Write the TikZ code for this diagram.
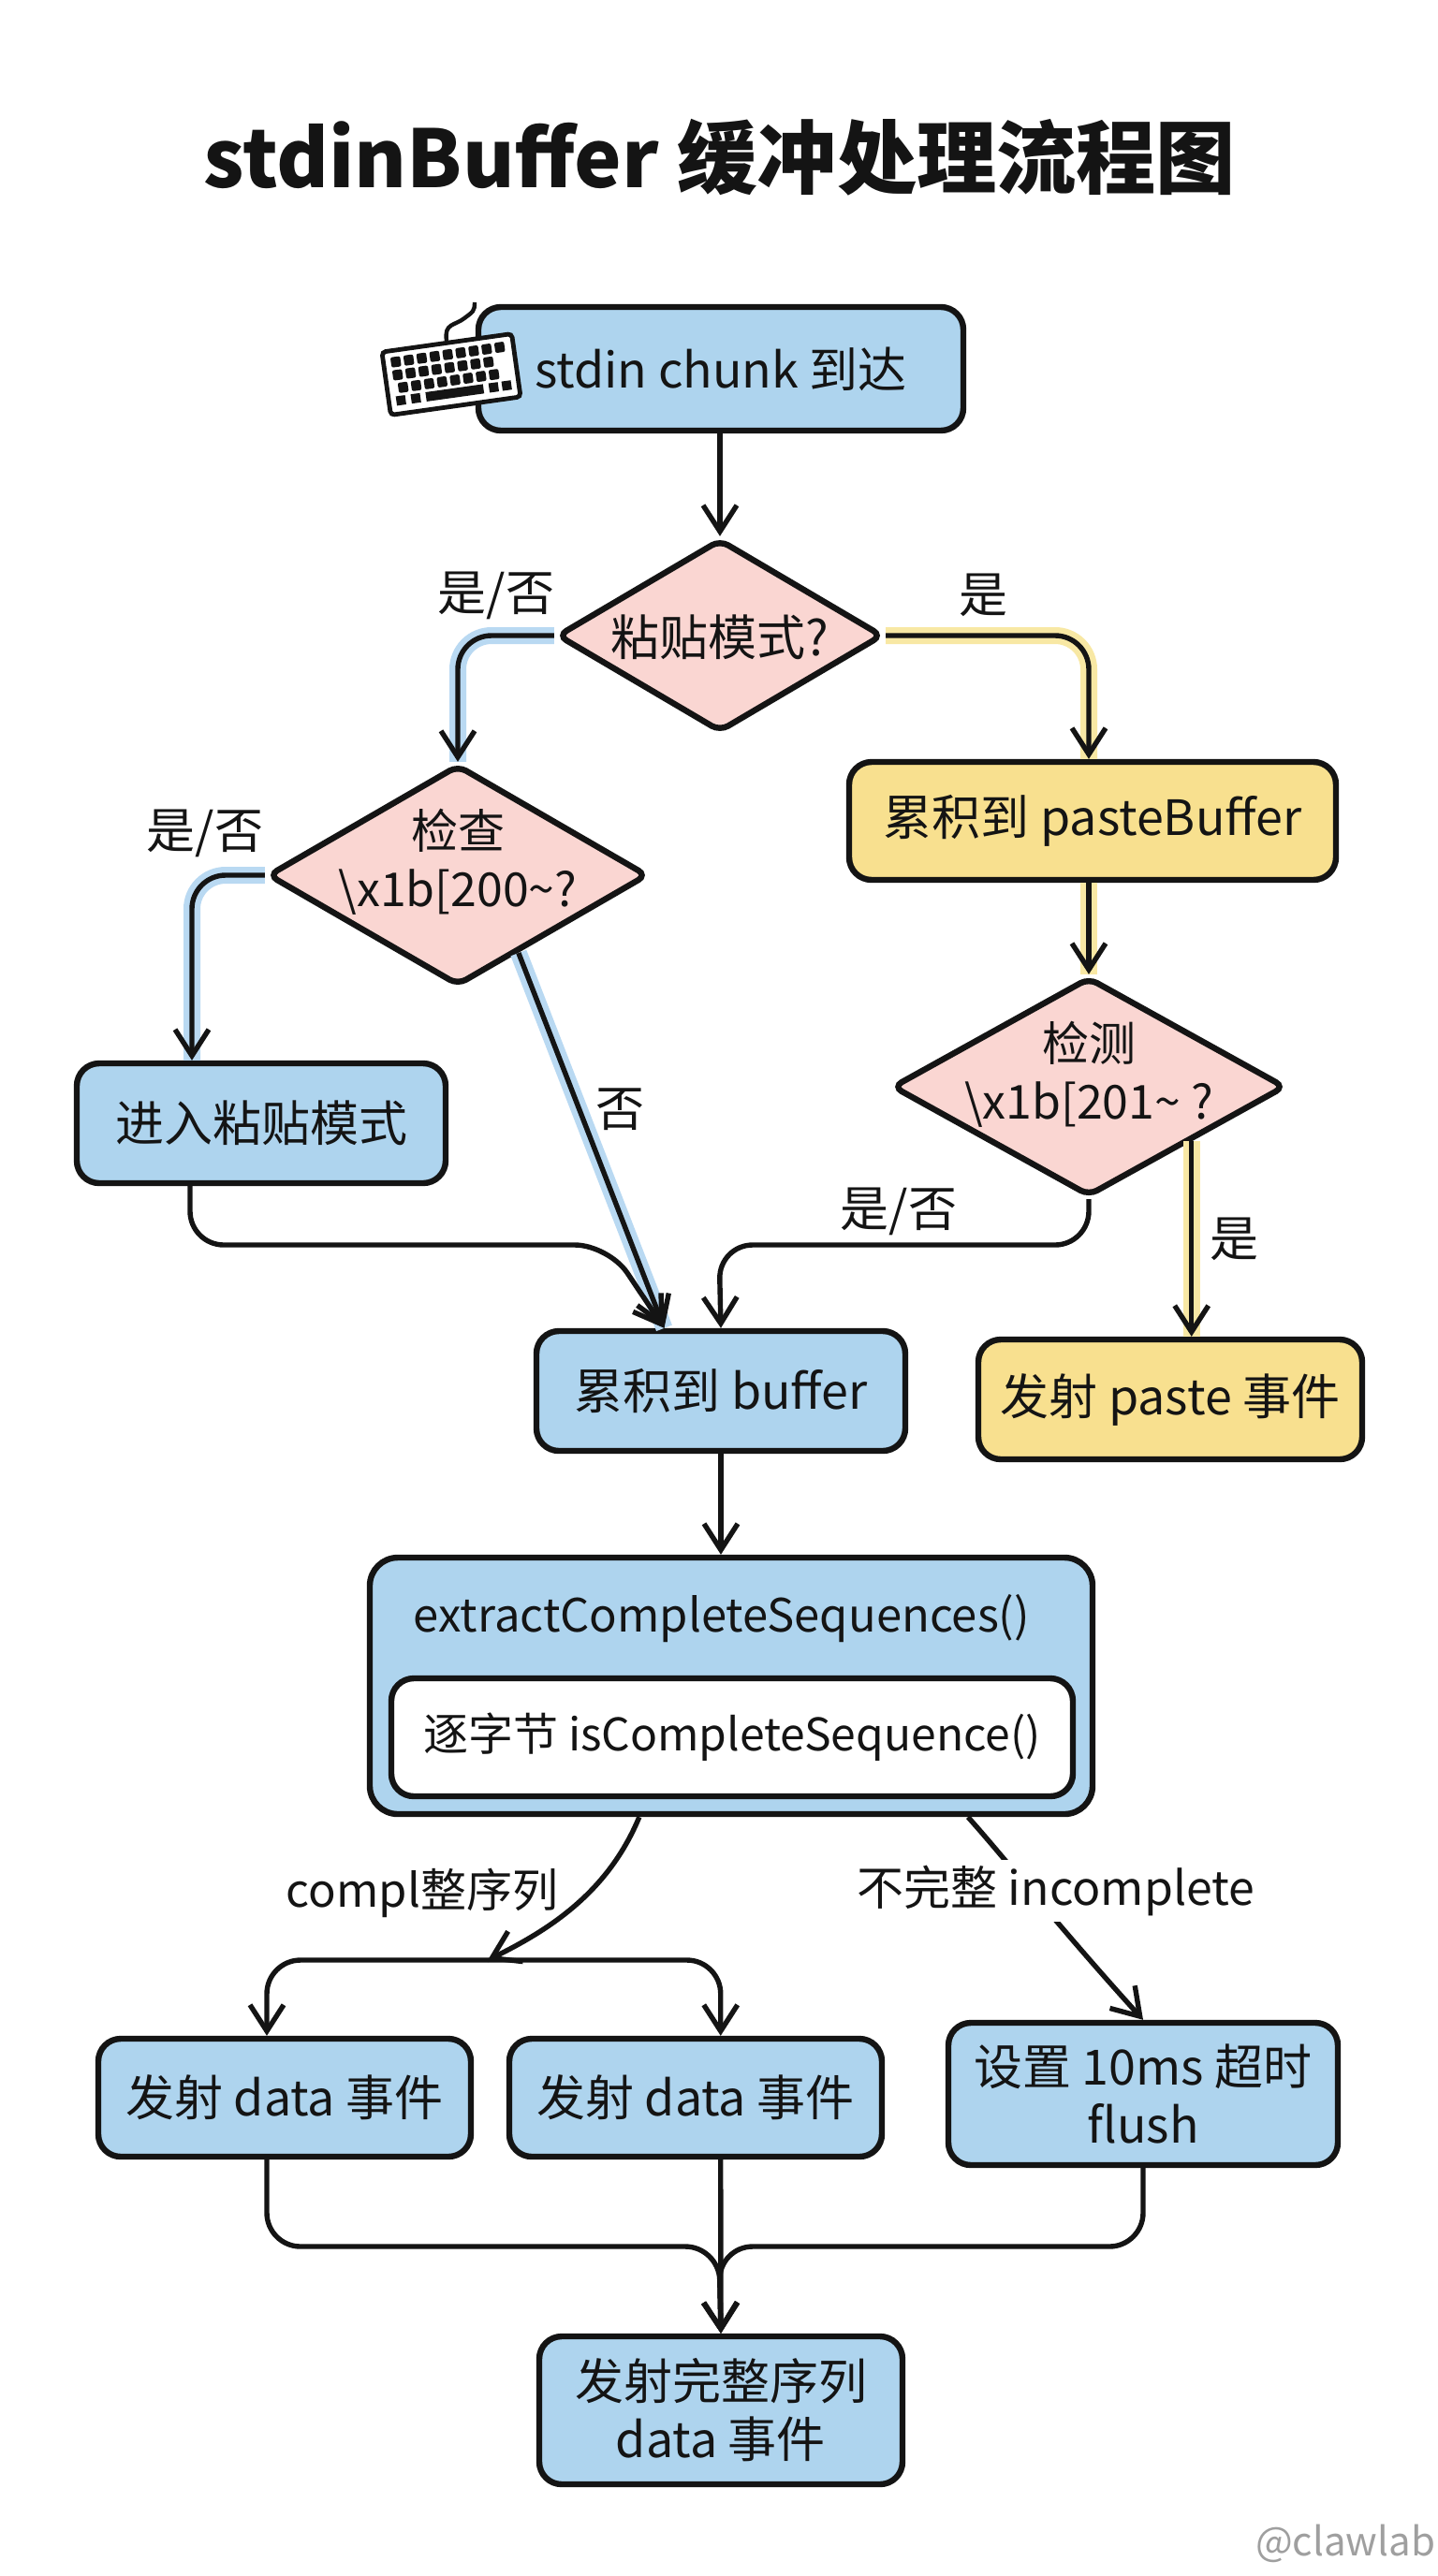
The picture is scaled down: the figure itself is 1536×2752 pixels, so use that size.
\documentclass[tikz,border=0pt]{standalone}
\usepackage{xcolor}
\usepackage{fontspec}
\setmainfont{Noto Sans CJK SC}
\usetikzlibrary{calc,arrows.meta,shapes.geometric}
\definecolor{boxblue}{HTML}{AED4EE}
\definecolor{boxpink}{HTML}{FAD6D2}
\definecolor{boxyellow}{HTML}{F8E08F}
\definecolor{glowblue}{HTML}{B9D9F2}
\definecolor{glowyellow}{HTML}{F8E8A4}
\definecolor{ink}{HTML}{141414}
\newcommand{\bodysize}{\fontsize{26}{31}\selectfont}

\begin{document}
\begin{tikzpicture}[x=0.5pt,y=-0.5pt]
  \tikzset{every node/.style={text=ink,font=\bodysize,align=center,inner sep=0pt}};
  \tikzset{box/.style={draw=ink,line width=3.2pt,rounded corners=12pt}};
  \tikzset{bluebox/.style={box,fill=boxblue}};
  \tikzset{yellowbox/.style={box,fill=boxyellow}};
  \tikzset{choice/.style={shape=diamond,aspect=1.72,draw=ink,line width=3.2pt,rounded corners=5pt,fill=boxpink}};
  \tikzset{flow/.style={draw=ink,line width=2.7pt,rounded corners=18pt,arrows={-{Straight Barb[length=14pt,width=18pt]}}}};
  \tikzset{bluepath/.style={flow,preaction={draw=glowblue,line width=9pt,-}}};
  \tikzset{yellowpath/.style={flow,preaction={draw=glowyellow,line width=9pt,-}}};
  \path[fill=white] (0,0) rectangle (1536,2752);
  \useasboundingbox (0,0) rectangle (1536,2752);
  \node[font=\fontsize{42.6}{50}\selectfont\bfseries] (Title) at (769,168) {stdinBuffer 缓冲处理流程图};
  \node[bluebox,minimum width=259pt,minimum height=66pt] (Start) at (770,394) {stdin chunk 到达};
  \node[choice,minimum width=174pt,minimum height=103pt] (Paste) at (769,679) {};
  \node (PasteT) at (769,681) {粘贴模式?};
  \node[yellowbox,minimum width=260pt,minimum height=63pt] (PB) at (1167,877) {累积到 pasteBuffer};
  \node[choice,minimum width=203pt,minimum height=118pt] (Check) at (489,935) {};
  \node[font=\fontsize{25}{31}\selectfont] (CheckT) at (489,921) {检查\\\textbackslash x1b[200\textasciitilde?};
  \node[choice,minimum width=210pt,minimum height=117pt] (Detect) at (1163,1161) {};
  \node[font=\fontsize{25}{31}\selectfont] (DetectT) at (1163,1148) {检测\\\textbackslash x1b[201\textasciitilde{} ?};
  \node[bluebox,minimum width=197pt,minimum height=64pt] (Enter) at (279,1200) {进入粘贴模式};
  \node[bluebox,minimum width=197pt,minimum height=64pt] (Buf) at (770,1486) {累积到 buffer};
  \node[yellowbox,minimum width=205pt,minimum height=64pt] (PE) at (1250,1495) {发射 paste 事件};
  \node[bluebox,rounded corners=15pt,minimum width=386pt,minimum height=137pt] (Ext) at (781,1801) {};
  \node[font=\fontsize{24.5}{31}\selectfont] (ExtT) at (771,1729) {extractCompleteSequences()};
  \node[box,fill=white,font=\fontsize{24}{31}\selectfont,minimum width=364pt,minimum height=63pt] (Byte) at (782,1856) {逐字节 isCompleteSequence()};
  \node[bluebox,minimum width=199pt,minimum height=63pt] (DataA) at (304,2241) {发射 data 事件};
  \node[bluebox,minimum width=199pt,minimum height=63pt] (DataB) at (743,2241) {发射 data 事件};
  \node[bluebox,minimum width=208pt,minimum height=76pt] (Time) at (1221,2237) {设置 10ms 超时\\flush};
  \node[bluebox,minimum width=194pt,minimum height=79pt] (Final) at (770,2575) {发射完整序列\\data 事件};
  \coordinate (Join) at (521,2094);
  \coordinate (Merge) at (768,2400);
  \coordinate (LeftIn) at (650,1330);
  \coordinate (RightIn) at (768,1330);
  % keyboard
  \begin{scope}[shift={(482,400)},rotate=8]
    \draw[ink,line width=2.4pt,rounded corners=2pt,fill=white] (-70,-34) rectangle (70,34);
    \foreach \k in {0,...,8} \fill[ink,rounded corners=1pt] (-62+\k*14,-27) rectangle ++(10.5,11);
    \foreach \k in {0,...,7} \fill[ink,rounded corners=1pt] (-62+\k*14,-13) rectangle ++(10.5,11);
    \foreach \k in {0,...,7} \fill[ink,rounded corners=1pt] (-58+\k*14,1) rectangle ++(10.5,11);
    \fill[ink] (-62,15) rectangle ++(10,10) (-46,15) rectangle ++(10,10) (-30,15) rectangle ++(62,10) (38,15) rectangle ++(10,10) (52,15) rectangle ++(10,10);
  \end{scope}
  \draw[ink,line width=2.2pt] (477,364) .. controls (474,345) and (486,348) .. (496,340) .. controls (505,333) and (507,333) .. (507,323);
  % connectors
  \draw[flow] (Start.south -| Paste.north) -- (Paste.north);
  \draw[bluepath] (Paste.west) -| (Check.north);
  \draw[yellowpath] (Paste.east) -| (PB.north -| Detect.north);
  \draw[bluepath] (Check.west) -| (Enter.north -| 205,0);
  \draw[bluepath,rounded corners=0pt] (Check.-52) -- (Buf.132);
  \draw[flow] (Enter.south -| 203,0) |- (LeftIn) -- (Buf.132);
  \draw[yellowpath] (PB.south -| Detect.north) -- (Detect.north);
  \draw[flow] (Detect.south) |- (RightIn) -- (Buf.north);
  \draw[yellowpath] (Detect.-28) -- (Detect.-28 |- PE.north);
  \draw[flow] (Buf.south) -- (Buf.south |- Ext.north);
  \draw[flow] (Ext.-125) .. controls (650,2020) and (590,2060) .. (Join);
  \draw[flow] (Join) -| (DataA.106);
  \draw[flow] (Join) -| (DataB.68);
  \draw[flow] (Ext.-29) .. controls (1075,1987) and (1127,2054) .. (Time.north);
  \draw[flow] (DataA.-106) |- (Merge) -- (Final.north);
  \draw[flow] (DataB.-68) -- (Final.north);
  \draw[flow] (Time.south) |- (Merge) -- (Final.north);
  % labels
  \node (LabA) at (530,636) {是/否};
  \node (LabB) at (1050,636) {是};
  \node (LabC) at (219,890) {是/否};
  \node (LabD) at (662,1185) {否};
  \node (LabE) at (960,1294) {是/否};
  \node (LabF) at (1318,1324) {是};
  \node[font=\fontsize{24.5}{31}\selectfont] (LabG) at (451,2022) {compl整序列};
  \node[fill=white,inner sep=3pt,font=\fontsize{25}{31}\selectfont] (LabH) at (1128,2020) {不完整 incomplete};
  \node[text=gray!75,font=\fontsize{21}{25}\selectfont] (Mark) at (1437,2717) {@clawlab};
\end{tikzpicture}
\end{document}
